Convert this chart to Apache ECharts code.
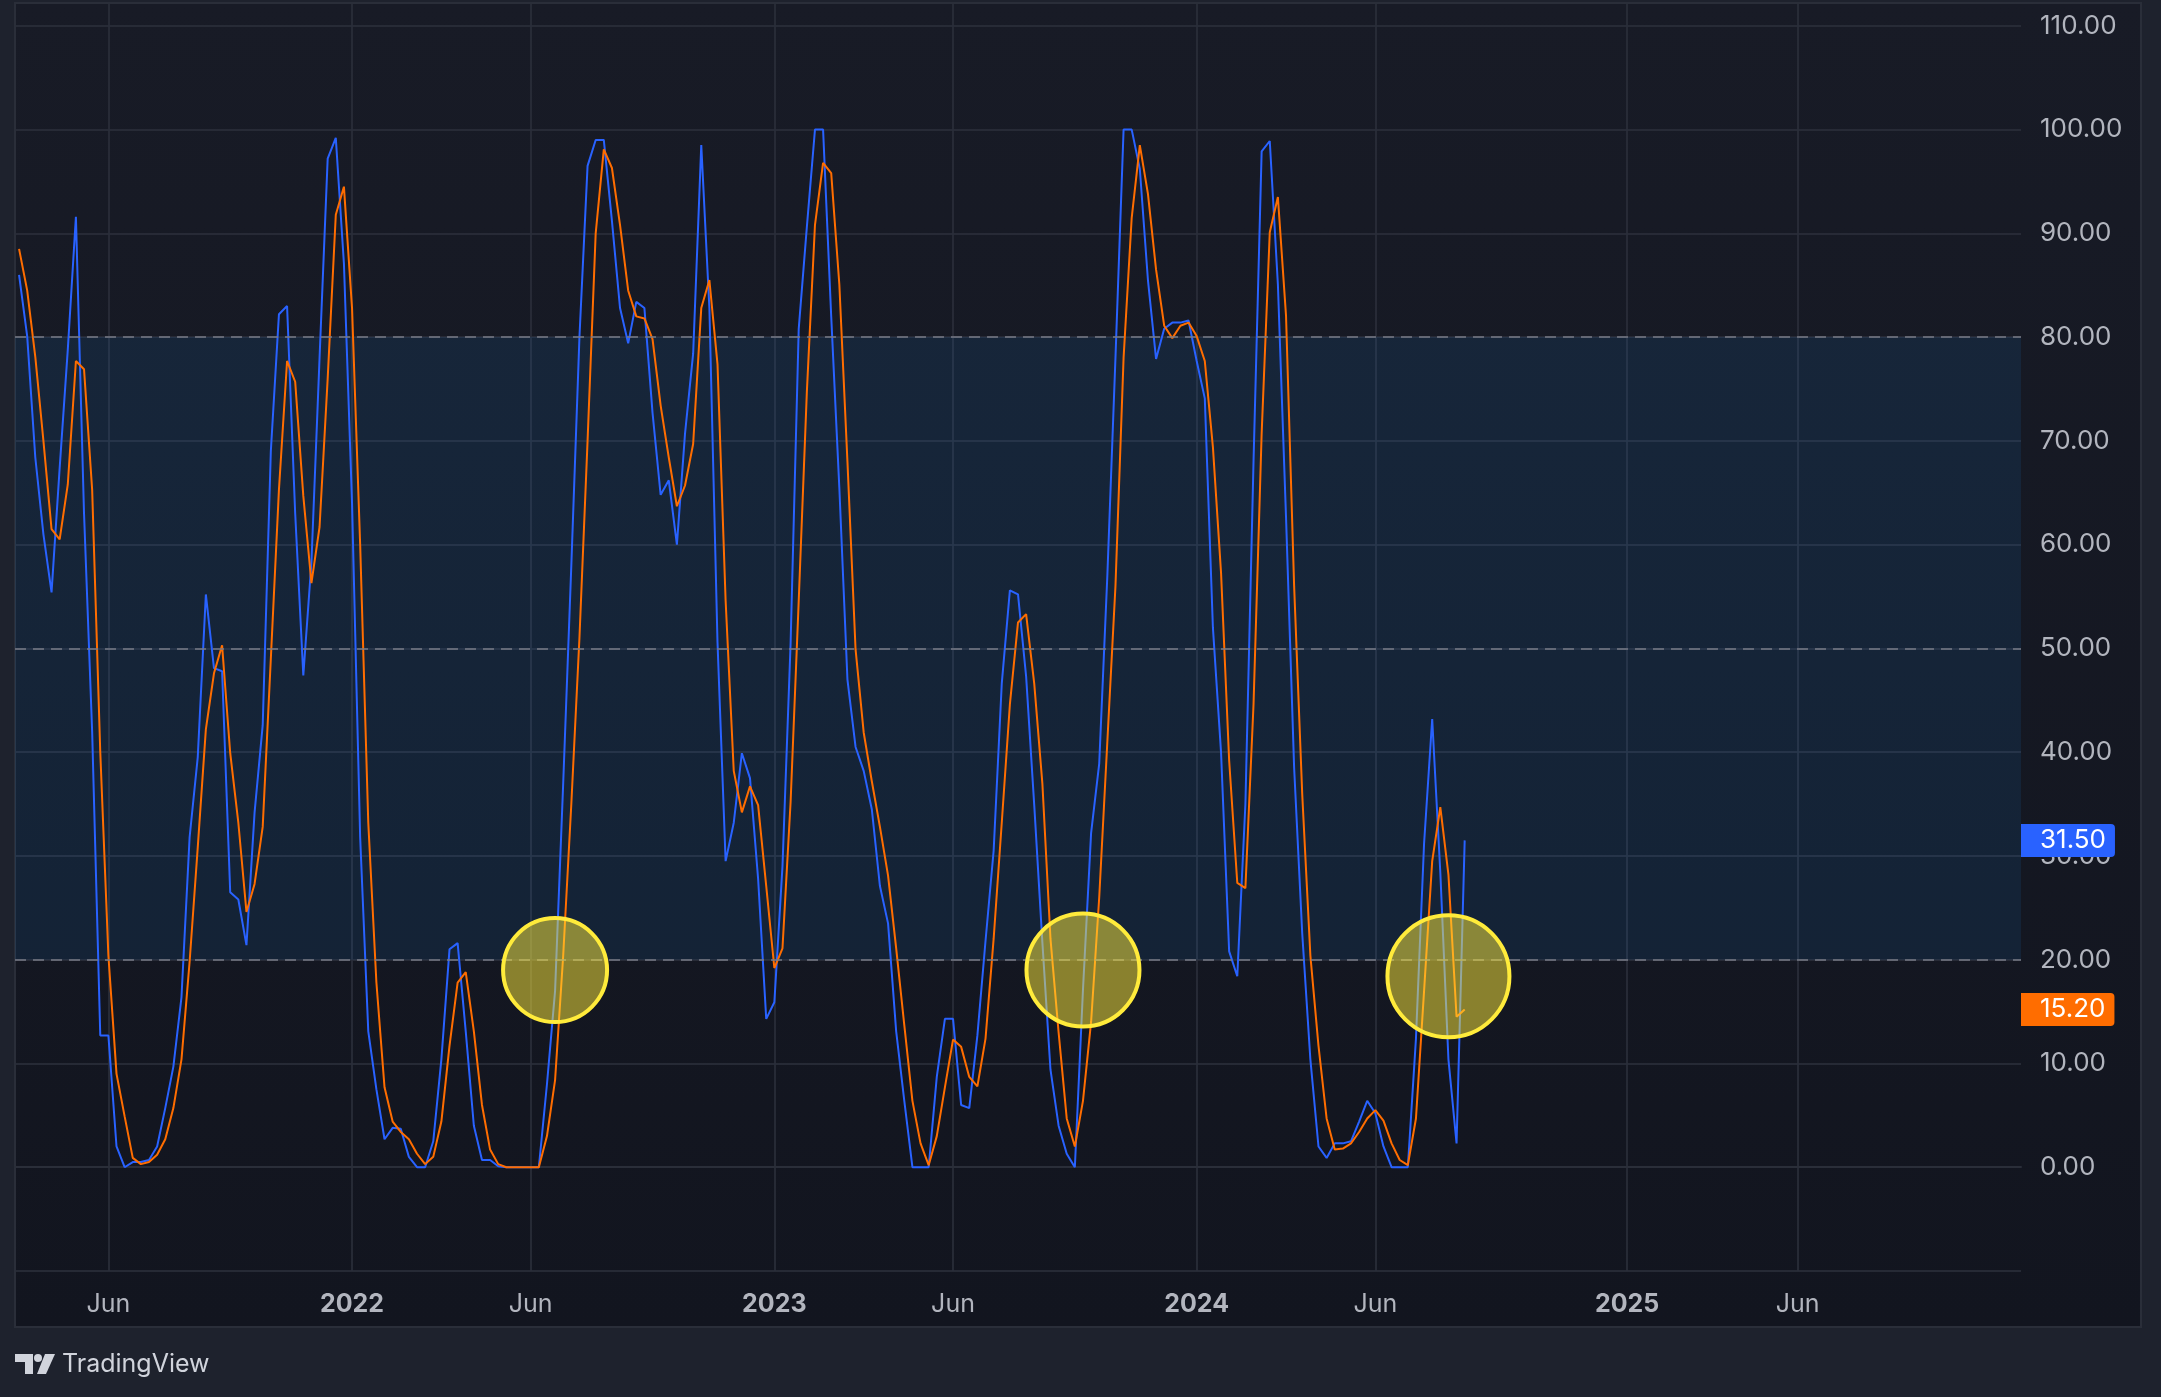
<!DOCTYPE html>
<html>
<head>
<meta charset="utf-8">
<script src="https://cdn.jsdelivr.net/npm/echarts@6/dist/echarts.min.js"></script>
<style>
html,body{margin:0;padding:0;background:#1e222d;}
#c{width:2161px;height:1397px;}
</style>
</head>
<body>
<div id="c"></div>
<script>
// ---- data (weekly bars starting 2021-03-22) ----
const firstWeek = '2021-03-22';
const weekCount = 247; // visible bars incl. empty future space

const kValues = [
  86.0, 80.1, 68.4, 61.0, 55.4, 67.4, 78.8, 91.6, 63, 42,
  12.7, 12.7, 2.0, 0.0, 0.5, 0.5, 0.7, 2.0, 5.7, 9.7,
  16.4, 31.8, 39.5, 55.2, 48.1, 47.8, 26.5, 25.8, 21.4, 34.2,
  42.6, 69.0, 82.2, 83.0, 63, 47.4, 58.3, 78, 97.2, 99.2,
  87.1, 64, 31.8, 13.1, 7.5, 2.7, 3.8, 3.7, 1.0, 0,
  0, 2.5, 10.4, 21.0, 21.6, 13.1, 4.0, 0.7, 0.7, 0.1,
  0, 0, 0, 0, 0, 8, 17, 37, 58, 80,
  96.5, 99, 99, 91.2, 82.8, 79.4, 83.4, 82.8, 72.7, 64.8,
  66.2, 60.0, 70.7, 78.4, 98.5, 82.8, 50.6, 29.5, 33.2, 39.9,
  37.5, 27.8, 14.3, 15.9, 29, 50.5, 80.8, 90.6, 100, 100,
  82, 65.5, 47, 40.5, 38.2, 34.5, 27.1, 23.5, 13.1, 6.4,
  0, 0, 0, 8.7, 14.3, 14.3, 6.0, 5.7, 12.7, 21.8,
  30.5, 46.6, 55.6, 55.2, 47.3, 34.9, 21.7, 9.4, 4.0, 1.3,
  0, 17.1, 32.2, 38.9, 57, 78, 100, 100, 96.2, 85.5,
  77.9, 80.8, 81.4, 81.4, 81.6, 77.7, 74.1, 52, 40, 20.8,
  18.4, 35, 68, 97.9, 98.9, 85.1, 62.7, 38.5, 22.5, 10.4,
  2.0, 0.9, 2.3, 2.3, 2.5, 4.4, 6.4, 5.2, 2.0, 0,
  0, 0, 12.4, 31.2, 43.2, 28.4, 10.4, 2.3, 31.5
];

const dValues = [
  88.5, 84.5, 78.1, 70.0, 61.5, 60.5, 65.8, 77.7, 76.9, 65.3,
  40, 20.4, 9.0, 4.9, 0.9, 0.3, 0.5, 1.2, 2.7, 5.7,
  10.4, 19.8, 30.8, 42.2, 47.6, 50.3, 39.9, 33.2, 24.6, 27.3,
  32.8, 49, 65.3, 77.7, 75.7, 64.7, 56.3, 61.7, 76, 91.8,
  94.5, 82.8, 60.0, 33.2, 17.8, 7.7, 4.4, 3.4, 2.7, 1.3,
  0.3, 1.0, 4.4, 11.7, 17.8, 18.8, 13.1, 6.0, 1.7, 0.3,
  0, 0, 0, 0, 0, 3.0, 8.4, 20.4, 35, 51,
  70, 90, 98.1, 96.3, 90.8, 84.5, 82.0, 81.8, 79.8, 73.4,
  68.4, 63.7, 65.7, 69.7, 82.8, 85.5, 77.4, 54.6, 38.2, 34.2,
  36.7, 34.9, 27.1, 19.2, 21.1, 35.2, 54.6, 74.7, 90.8, 96.8,
  95.8, 85.1, 68.0, 49.9, 41.9, 37.2, 32.8, 28.1, 21.1, 13.7,
  6.4, 2.3, 0.2, 3.0, 7.7, 12.3, 11.6, 8.7, 7.8, 12.4,
  22, 33.2, 44.6, 52.5, 53.3, 46.6, 37, 22, 13, 4.7,
  2.0, 6.4, 14, 26, 41, 56, 78, 91.5, 98.5, 93.8,
  86.5, 81.1, 79.9, 81.1, 81.4, 80.1, 77.7, 69.4, 57.3, 39.2,
  27.4, 26.9, 44.6, 70.7, 90.1, 93.5, 82.1, 56.0, 35.9, 20.4,
  11.7, 4.7, 1.7, 1.8, 2.3, 3.4, 4.7, 5.5, 4.5, 2.3,
  0.7, 0.2, 4.7, 17, 29.5, 34.7, 28.2, 14.5, 15.2
];

const tickDates  = ['2021-06-07','2022-01-03','2022-06-06','2023-01-02','2023-06-05','2024-01-01','2024-06-03','2025-01-06','2025-06-02'];
const tickLabels = ['Jun','2022','Jun','2023','Jun','2024','Jun','2025','Jun'];
const tickIsYear = [false,true,false,true,false,true,false,true,false];

const levelValues = [20, 50, 80];
const bandRange = [20, 80];

const highlightDates  = ['2022-06-27','2023-09-25','2024-08-05'];
const highlightValues = [19, 19, 18.4];

// ---- build categories ----
function buildWeeks(start, n) {
  const p = start.split('-').map(Number);
  const t0 = Date.UTC(p[0], p[1] - 1, p[2]);
  const out = [];
  for (let i = 0; i < n; i++) out.push(new Date(t0 + i * 7 * 86400000).toISOString().slice(0, 10));
  return out;
}
const weeks = buildWeeks(firstWeek, weekCount);
const tickMap = {};
tickDates.forEach((d, i) => { tickMap[d] = i; });

const circleSizes = [104, 113, 122];
const FONT = 'Inter';

function lastValueTag(values, color) {
  return {
    silent: true,
    symbol: 'none',
    lineStyle: {color: 'rgba(0,0,0,0)', width: 1, opacity: 1},
    emphasis: {disabled: true},
    data: [{yAxis: values[values.length - 1]}],
    label: {
      show: true, position: 'end', distance: 0, opacity: 1,
      formatter: (p) => Number(p.value).toFixed(2),
      backgroundColor: color, color: '#ffffff',
      fontFamily: FONT, fontSize: 26, lineHeight: 26,
      padding: [4, 9, 3, 19], borderRadius: [0, 4, 4, 0]
    }
  };
}

const chart = echarts.init(document.getElementById('c'), null, {renderer: 'canvas'});
const option = {
  backgroundColor: '#1e222d',
  animation: false,
  grid: {left: 15, right: 140, top: 3, bottom: 126},
  graphic: {
    elements: [
      {
        type: 'rect', z: -100, silent: true,
        shape: {x: 15, y: 3, width: 2126, height: 1324},
        style: {
          fill: new echarts.graphic.LinearGradient(0, 0, 0, 1, [
            {offset: 0, color: '#181b26'}, {offset: 1, color: '#12151f'}
          ]),
          stroke: '#2a2e39', lineWidth: 2
        }
      },
      {
        type: 'polygon', silent: true,
        shape: {points: [[15,1354],[33,1354],[33,1374],[25,1374],[25,1362],[15,1362]]},
        style: {fill: '#d1d4dc'}
      },
      {
        type: 'circle', silent: true,
        shape: {cx: 38, cy: 1358, r: 4},
        style: {fill: '#d1d4dc'}
      },
      {
        type: 'polygon', silent: true,
        shape: {points: [[45,1354],[55,1354],[46,1374],[37,1374]]},
        style: {fill: '#d1d4dc'}
      },
      {
        type: 'text', silent: true,
        style: {text: 'TradingView', x: 62, y: 1364, fill: '#d1d4dc',
                font: '25px Inter', verticalAlign: 'middle', align: 'left'}
      }
    ]
  },
  xAxis: {
    type: 'category',
    data: weeks,
    boundaryGap: true,
    axisLine: {show: true, lineStyle: {color: '#2a2e39', width: 2}},
    axisTick: {show: false},
    axisLabel: {
      interval: (idx, val) => tickMap[val] !== undefined,
      margin: 19,
      formatter: (val) => {
        const k = tickMap[val];
        if (k === undefined) return '';
        return tickIsYear[k] ? '{y|' + tickLabels[k] + '}' : '{m|' + tickLabels[k] + '}';
      },
      rich: {
        y: {fontFamily: FONT, fontSize: 25, fontWeight: 700, color: '#b2b5be', lineHeight: 28},
        m: {fontFamily: FONT, fontSize: 25, fontWeight: 400, color: '#b2b5be', lineHeight: 28}
      }
    },
    splitLine: {
      show: true,
      interval: (idx, val) => tickMap[val] !== undefined,
      alignWithLabel: true,
      lineStyle: {color: 'rgba(42,46,57,0.85)', width: 2}
    }
  },
  yAxis: {
    type: 'value',
    position: 'right',
    min: -10,
    max: 112.2,
    interval: 10,
    axisLine: {show: false},
    axisTick: {show: false},
    axisLabel: {
      showMinLabel: false,
      showMaxLabel: false,
      margin: 19,
      color: '#b2b5be',
      fontFamily: FONT,
      fontSize: 26,
      formatter: (v) => v.toFixed(2)
    },
    splitLine: {show: true, lineStyle: {color: 'rgba(42,46,57,0.85)', width: 2}}
  },
  series: [
    {
      name: 'levels',
      type: 'line',
      data: [],
      z: 1,
      silent: true,
      markArea: {
        silent: true,
        itemStyle: {color: 'rgba(33,150,243,0.1)'},
        data: [[{yAxis: bandRange[0]}, {yAxis: bandRange[1]}]]
      },
      markLine: {
        silent: true,
        symbol: 'none',
        label: {show: false},
        lineStyle: {type: [11, 7], color: '#787b86', width: 1.6},
        data: levelValues.map(v => ({yAxis: v}))
      }
    },
    {
      name: '%K',
      type: 'line',
      data: kValues,
      z: 3,
      showSymbol: false,
      symbol: 'none',
      lineStyle: {color: '#2962ff', width: 2},
      markLine: lastValueTag(kValues, '#2962ff')
    },
    {
      name: '%D',
      type: 'line',
      data: dValues,
      z: 3,
      showSymbol: false,
      symbol: 'none',
      lineStyle: {color: '#ff6d00', width: 2},
      markLine: lastValueTag(dValues, '#ff6d00')
    },
    {
      name: 'highlights',
      type: 'scatter',
      z: 5,
      silent: true,
      data: highlightDates.map((d, i) => [d, highlightValues[i]]),
      symbol: 'circle',
      symbolSize: (val, params) => circleSizes[params.dataIndex],
      itemStyle: {color: 'rgba(255,235,59,0.5)', borderColor: '#ffeb3b', borderWidth: 4, opacity: 1}
    }
  ]
};
chart.setOption(option);
</script>
</body>
</html>
